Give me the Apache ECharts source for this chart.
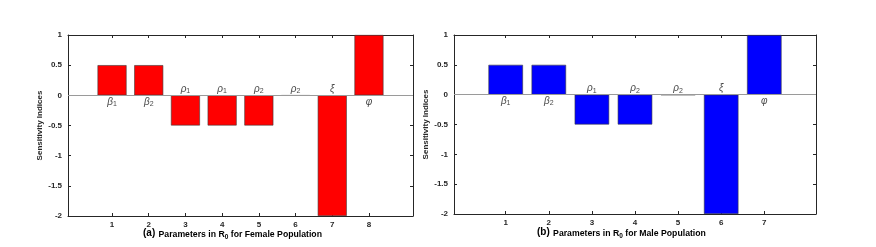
<!DOCTYPE html>
<html><head><meta charset="utf-8">
<script src="https://cdn.jsdelivr.net/npm/echarts@6/dist/echarts.min.js"></script>
<style>html,body{margin:0;padding:0;background:#fff}#c{width:876px;height:247px}</style>
</head><body><div id="c"></div>
<script>
// ---- data ----
const femaleValues = [0.5, 0.5, -0.5, -0.5, -0.5, -0.004, -2, 1];
const femaleSymbols = ['β', 'β', 'ρ', 'ρ', 'ρ', 'ρ', 'ξ', 'φ'];
const femaleSubs = ['1', '2', '1', '1', '2', '2', '', ''];
const maleValues = [0.5, 0.5, -0.5, -0.5, -0.004, -2, 1];
const maleSymbols = ['β', 'β', 'ρ', 'ρ', 'ρ', 'ξ', 'φ'];
const maleSubs = ['1', '2', '1', '2', '2', '', ''];
const yTicks = [1, 0.5, 0, -0.5, -1, -1.5, -2];
const femaleTitle = ['(a)', 'Parameters in R', '0', ' for Female Population'];
const maleTitle = ['(b)', 'Parameters in R', '0', ' for Male Population'];

const AX = '#262626';
const FONT = '"Liberation Sans", Arial, sans-serif';

function panel(i, n, vals, syms, subs, color, barW) {
  const ticks = Array.from({length: n}, (_, k) => k + 1);
  const xs = [
    {gridIndex: i, type: 'value', min: -0.2, max: n + 1.2, position: 'bottom',
     axisLine: {onZero: false, lineStyle: {color: AX, width: 1}},
     axisTick: {inside: true, length: 3, customValues: ticks, lineStyle: {color: AX}},
     axisLabel: {customValues: ticks, color: AX, fontSize: 8, fontWeight: 'bold', fontFamily: FONT, margin: 5},
     splitLine: {show: false}},
    {gridIndex: i, type: 'value', min: -0.2, max: n + 1.2, position: 'top',
     axisLine: {onZero: false, lineStyle: {color: AX, width: 1}},
     axisTick: {inside: true, length: 3, customValues: ticks, lineStyle: {color: AX}},
     axisLabel: {show: false}, splitLine: {show: false}}
  ];
  const ys = [
    {gridIndex: i, type: 'value', min: -2, max: 1, interval: 0.5, position: 'left',
     name: 'Sensitivity Indices', nameLocation: 'middle', nameGap: 24,
     nameTextStyle: {color: AX, fontSize: 8, fontWeight: 'bold', fontFamily: FONT},
     axisLine: {show: true, onZero: false, lineStyle: {color: AX, width: 1}},
     axisTick: {show: true, inside: true, length: 3, lineStyle: {color: AX}},
     axisLabel: {color: AX, fontSize: 8, fontWeight: 'bold', fontFamily: FONT, margin: 6,
       formatter: v => String(v)},
     splitLine: {show: false}},
    {gridIndex: i, type: 'value', min: -2, max: 1, interval: 0.5, position: 'right',
     axisLine: {show: true, onZero: false, lineStyle: {color: AX, width: 1}},
     axisTick: {show: true, inside: true, length: 3, lineStyle: {color: AX}},
     axisLabel: {show: false}, splitLine: {show: false}}
  ];
  const series = [
    {type: 'bar', xAxisIndex: i * 2, yAxisIndex: i * 2, barWidth: barW,
     data: vals.map((v, k) => [k + 1, v]),
     itemStyle: {color: color, borderColor: '#3a3a3a', borderWidth: 0.6},
     markLine: {silent: true, symbol: 'none', label: {show: false},
       lineStyle: {color: '#9a9a9a', type: 'solid', width: 1},
       data: [{yAxis: 0}]},
     animation: false, z: 3},
    {type: 'scatter', xAxisIndex: i * 2, yAxisIndex: i * 2, symbolSize: 0,
     data: vals.map((v, k) => [k + 1, v > 0 ? -0.115 : 0.1]),
     label: {show: true, position: 'inside',
       formatter: p => '{g|' + syms[p.dataIndex] + '}' + (subs[p.dataIndex] ? '{s|' + subs[p.dataIndex] + '}' : ''),
       rich: {
         g: {fontSize: 10, fontStyle: 'italic', color: '#111', fontFamily: FONT},
         s: {fontSize: 7, color: '#111', fontFamily: FONT, verticalAlign: 'bottom', padding: [4, 0, 0, 0]}
       }},
     animation: false, z: 5}
  ];
  return {xs, ys, series};
}

const A = panel(0, femaleValues.length, femaleValues, femaleSymbols, femaleSubs, '#ff0000', 29);
const B = panel(1, maleValues.length, maleValues, maleSymbols, maleSubs, '#0000ff', 34.5);

function titleRich(t) {
  return '{a|' + t[0] + '} {b|' + t[1] + '}{s|' + t[2] + '}{b|' + t[3] + '}';
}
const rich = {
  a: {fontSize: 10, fontWeight: 'bold', color: AX, fontFamily: FONT, padding: [0, 0, 3, 0]},
  b: {fontSize: 8.7, fontWeight: 'bold', color: AX, fontFamily: FONT},
  s: {fontSize: 6.5, fontWeight: 'bold', color: AX, fontFamily: FONT, verticalAlign: 'bottom', padding: [4, 0, 0, 0]}
};

const chart = echarts.init(document.getElementById('c'), null, {renderer: 'canvas'});
chart.setOption({
  backgroundColor: '#fff',
  animation: false,
  grid: [
    {left: 68, top: 35, width: 345, height: 181},
    {left: 454, top: 35, width: 362, height: 179}
  ],
  xAxis: A.xs.concat(B.xs),
  yAxis: A.ys.concat(B.ys),
  series: A.series.concat(B.series),
  graphic: [
    {type: 'text', left: 143, top: 228, style: {text: titleRich(femaleTitle), rich: rich}},
    {type: 'text', left: 537, top: 227, style: {text: titleRich(maleTitle), rich: rich}}
  ]
});
</script></body></html>
